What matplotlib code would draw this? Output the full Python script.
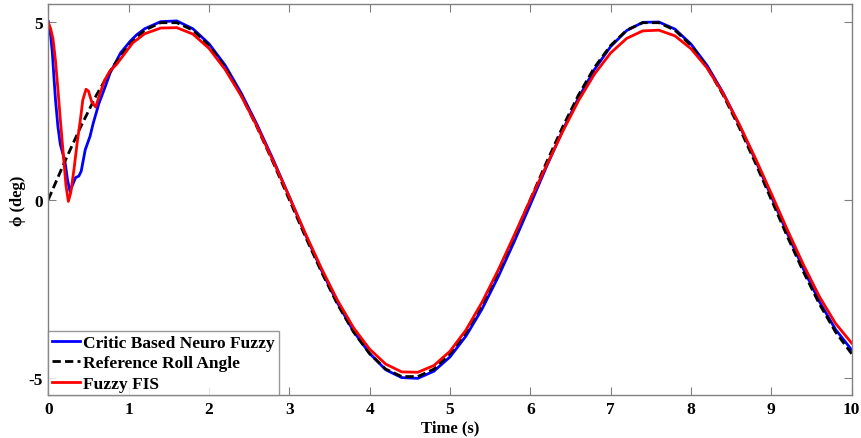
import numpy as np
import matplotlib
matplotlib.use("Agg")
import matplotlib.pyplot as plt

plt.rcParams['font.family'] = ['Liberation Serif', 'DejaVu Serif']
plt.rcParams['font.weight'] = 'bold'
plt.rcParams['axes.unicode_minus'] = False

# shared time grid after the start-up transient (s)
t_grid = [1.2, 1.4, 1.6, 1.8, 2.0, 2.2, 2.4, 2.6, 2.8, 3.0,
          3.2, 3.4, 3.6, 3.8, 4.0, 4.2, 4.4, 4.6, 4.8, 5.0,
          5.2, 5.4, 5.6, 5.8, 6.0, 6.2, 6.4, 6.6, 6.8, 7.0,
          7.2, 7.4, 7.6, 7.8, 8.0, 8.2, 8.4, 8.6, 8.8, 9.0,
          9.2, 9.4, 9.6, 9.8, 10.0]

# reference roll angle
t_ref = [0.0, 0.2, 0.4, 0.6, 0.8, 1.0] + t_grid
ref = [0.0, 1.04, 2.03, 2.94, 3.72, 4.33,
       4.76, 4.97, 4.97, 4.76, 4.33, 3.72, 2.94, 2.03, 1.04, 0.0,
       -1.04, -2.03, -2.94, -3.72, -4.33, -4.76, -4.97, -4.97, -4.76, -4.33,
       -3.72, -2.94, -2.03, -1.04, 0.0, 1.04, 2.03, 2.94, 3.72, 4.33,
       4.76, 4.97, 4.97, 4.76, 4.33, 3.72, 2.94, 2.03, 1.04, 0.0,
       -1.04, -2.03, -2.94, -3.72, -4.33]

# critic based neuro fuzzy
t_nf = [0.0, 0.03, 0.05, 0.07, 0.09, 0.12, 0.15, 0.18, 0.21, 0.24, 0.27, 0.3,
        0.34, 0.38, 0.41, 0.46, 0.52, 0.56, 0.63, 0.71, 0.77, 0.9, 1.02, 1.1] + t_grid
nf = [5.0, 4.6, 4.15, 3.45, 2.8, 2.05, 1.55, 1.3, 1.03, 0.55, 0.23, 0.4,
      0.62, 0.66, 0.8, 1.4, 1.78, 2.15, 2.7, 3.18, 3.56, 4.12, 4.45, 4.63,
      4.8, 5.0, 5.02, 4.8, 4.38, 3.78, 3.0, 2.1, 1.12, 0.08,
      -0.98, -1.98, -2.9, -3.7, -4.32, -4.78, -5.0, -5.02, -4.82, -4.42,
      -3.83, -3.07, -2.17, -1.18, -0.14, 0.92, 1.93, 2.86, 3.66, 4.3,
      4.75, 4.98, 4.99, 4.79, 4.37, 3.77, 3.0, 2.1, 1.12, 0.09,
      -0.95, -1.95, -2.87, -3.65, -4.22]

# fuzzy FIS
t_fis = [0.0, 0.03, 0.06, 0.09, 0.12, 0.15, 0.19, 0.22, 0.25, 0.28, 0.32, 0.36,
         0.4, 0.43, 0.47, 0.5, 0.54, 0.59, 0.64, 0.7, 0.77, 0.85, 0.95, 1.05] + t_grid
fis = [4.97, 4.8, 4.5, 3.9, 3.1, 2.25, 1.2, 0.4, -0.05, 0.2, 0.85, 1.6,
       2.25, 2.8, 3.1, 3.05, 2.75, 2.6, 2.95, 3.35, 3.62, 3.8, 4.1, 4.4,
       4.66, 4.82, 4.83, 4.65, 4.25, 3.66, 2.92, 2.05, 1.08, 0.08,
       -0.95, -1.93, -2.83, -3.6, -4.2, -4.62, -4.84, -4.85, -4.66, -4.26,
       -3.66, -2.88, -1.98, -1.0, 0.0, 0.95, 1.9, 2.78, 3.53, 4.12,
       4.53, 4.74, 4.76, 4.6, 4.24, 3.7, 2.98, 2.12, 1.17, 0.17,
       -0.85, -1.83, -2.73, -3.48, -4.03]

fig = plt.figure(figsize=(8.62, 4.39), dpi=100)
ax = fig.add_axes([0.056, 0.097, 0.932, 0.892])

ax.plot(t_nf, nf, color='#0000ff', lw=2, label='Critic Based Neuro Fuzzy')
ax.plot(t_ref, ref, color='black', lw=2, linestyle=(0, (3, 1.5)), label='Reference Roll Angle')
ax.plot(t_fis, fis, color='#ff0000', lw=2, label='Fuzzy FIS')

ax.set_xlim(0, 10)
ax.set_ylim(-5.5, 5.5)
ax.set_xticks(range(0, 11))
ax.set_yticks([-5, 0, 5])

gray = '#808080'
for s in ax.spines.values():
    s.set_color(gray)
    s.set_linewidth(1)
ax.tick_params(direction='in', top=True, right=True, color=gray, length=6,
               labelsize=12.5, pad=4)
for lab in ax.get_xticklabels() + ax.get_yticklabels():
    lab.set_fontweight('bold')

ax.set_xlabel('Time (s)', fontsize=12, fontweight='bold', labelpad=2)
ax.set_ylabel('ϕ (deg)', fontsize=12, fontweight='bold', labelpad=2)

leg = ax.legend(loc='lower left', borderaxespad=0, fancybox=False,
                prop={'size': 12.5, 'weight': 'bold'}, handlelength=1.6,
                handletextpad=0.2, labelspacing=0.25, borderpad=0.22)
leg.get_frame().set_edgecolor(gray)
leg.get_frame().set_linewidth(1)

fig.savefig('out.png', dpi=100)
